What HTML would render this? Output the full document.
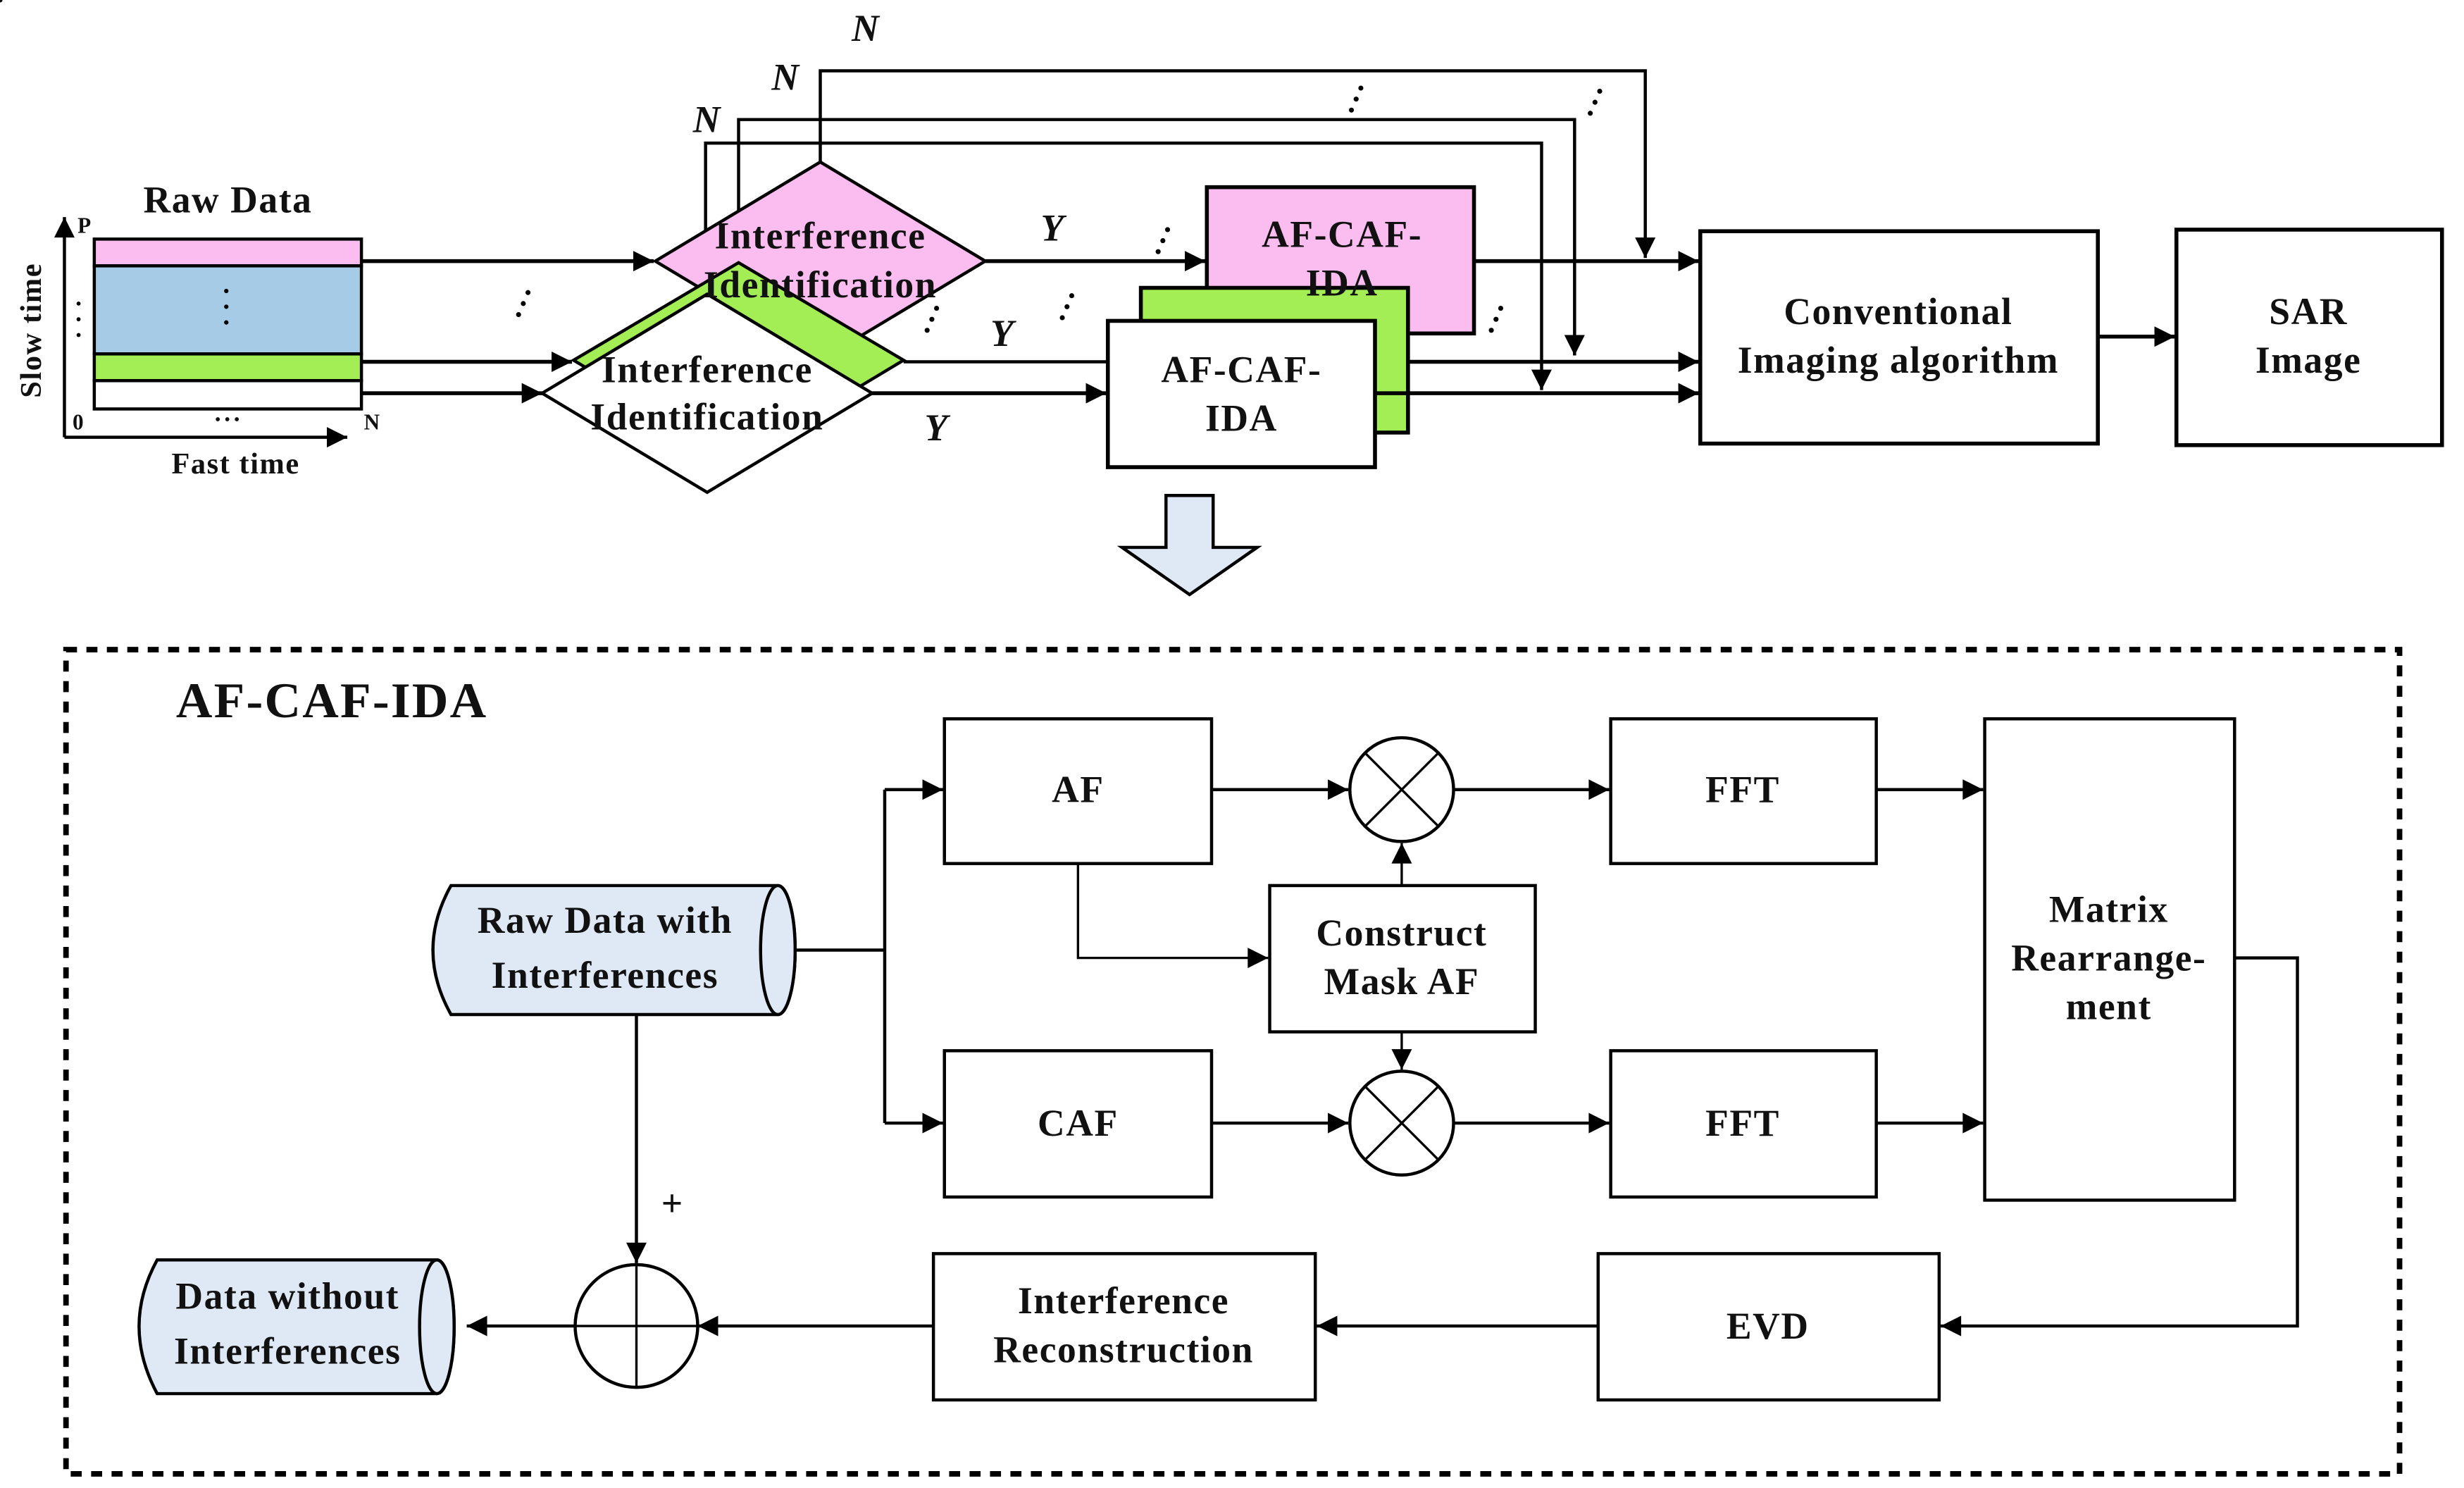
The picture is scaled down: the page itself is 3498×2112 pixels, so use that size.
<!DOCTYPE html>
<html><head><meta charset="utf-8"><style>
html,body{margin:0;padding:0;background:#fff;}
svg{display:block;}
text{font-family:"Liberation Serif",serif;font-weight:bold;fill:#111;}
</style></head><body>
<svg width="3498" height="2112" viewBox="0 0 1568 946" preserveAspectRatio="none" xmlns="http://www.w3.org/2000/svg">
<defs>
<marker id="b" viewBox="0 0 10 10" refX="10" refY="5" markerWidth="16" markerHeight="13" markerUnits="userSpaceOnUse" orient="auto"><path d="M0,0 L10,5 L0,10 z" fill="#000"/></marker>
</defs>
<g stroke="#000" fill="none">
<rect x="60" y="152" width="170" height="17" fill="#fbbdf0" stroke-width="2"/>
<rect x="60" y="169" width="170" height="56" fill="#a6cbe6" stroke-width="2"/>
<rect x="60" y="225" width="170" height="17" fill="#a4ee55" stroke-width="2"/>
<rect x="60" y="242" width="170" height="18" fill="#fff" stroke-width="2"/>
<line x1="41" y1="278" x2="41" y2="138" stroke-width="2" marker-end="url(#b)"/>
<line x1="41" y1="278" x2="221" y2="278" stroke-width="2" marker-end="url(#b)"/>
<line x1="230" y1="166" x2="416" y2="166" stroke-width="2.5" marker-end="url(#b)"/>
<line x1="230" y1="230" x2="364" y2="230" stroke-width="2.5" marker-end="url(#b)"/>
<line x1="230" y1="250" x2="345" y2="250" stroke-width="2.5" marker-end="url(#b)"/>
<polyline points="522,103 522,45 1047,45 1047,164" stroke-width="2" marker-end="url(#b)"/>
<polyline points="470,167 470,76 1002,76 1002,226" stroke-width="2" marker-end="url(#b)"/>
<polyline points="449,187 449,91 981,91 981,248" stroke-width="2" marker-end="url(#b)"/>
<polygon points="522,103 627,166 522,229 417,166" fill="#fbbdf0" stroke-width="2"/>
<polygon points="470,167 575,229 470,292 365,229" fill="#a4ee55" stroke-width="2"/>
<polygon points="450,187 555,250 450,313 345,250" fill="#fff" stroke-width="2"/>
<line x1="627" y1="166" x2="767" y2="166" stroke-width="2.5" marker-end="url(#b)"/>
<line x1="575" y1="230" x2="705" y2="230" stroke-width="2"/>
<line x1="555" y1="250" x2="704" y2="250" stroke-width="2.5" marker-end="url(#b)"/>
<rect x="768" y="119" width="170" height="93" fill="#fbbdf0" stroke-width="2.5"/>
<rect x="726" y="183" width="170" height="92" fill="#a4ee55" stroke-width="2.5"/>
<rect x="705" y="204" width="170" height="93" fill="#fff" stroke-width="2.5"/>
<line x1="938" y1="166" x2="1081" y2="166" stroke-width="2.5" marker-end="url(#b)"/>
<line x1="896" y1="230" x2="1081" y2="230" stroke-width="2.5" marker-end="url(#b)"/>
<line x1="875" y1="250" x2="1081" y2="250" stroke-width="2.5" marker-end="url(#b)"/>
<rect x="1082" y="147" width="253" height="135" stroke-width="2.5"/>
<rect x="1385" y="146" width="169" height="137" stroke-width="2.5"/>
<line x1="1335" y1="214" x2="1384" y2="214" stroke-width="2.5" marker-end="url(#b)"/>
<polygon points="742,315 772,315 772,348 800,348 757,378 714,348 742,348" fill="#dfe9f5" stroke-width="2"/>
<rect x="42" y="413" width="1485" height="524" stroke-width="3.5" stroke-dasharray="7,6"/>
<rect x="601" y="457" width="170" height="92" stroke-width="2"/>
<rect x="601" y="668" width="170" height="93" stroke-width="2"/>
<rect x="1025" y="457" width="169" height="92" stroke-width="2"/>
<rect x="1025" y="668" width="169" height="93" stroke-width="2"/>
<rect x="1263" y="457" width="159" height="306" stroke-width="2"/>
<rect x="808" y="563" width="169" height="93" stroke-width="2"/>
<rect x="1017" y="797" width="217" height="93" stroke-width="2"/>
<rect x="594" y="797" width="243" height="93" stroke-width="2"/>
<circle cx="892" cy="502" r="33" stroke-width="2"/>
<line x1="869" y1="479" x2="915" y2="525" stroke-width="1.5"/><line x1="915" y1="479" x2="869" y2="525" stroke-width="1.5"/>
<circle cx="892" cy="714" r="33" stroke-width="2"/>
<line x1="869" y1="691" x2="915" y2="737" stroke-width="1.5"/><line x1="915" y1="691" x2="869" y2="737" stroke-width="1.5"/>
<circle cx="405" cy="843" r="39" stroke-width="2"/>
<line x1="405" y1="804" x2="405" y2="882" stroke-width="1.5"/><line x1="366" y1="843" x2="444" y2="843" stroke-width="1.5"/>
<path d="M287,563 L495,563 A11,41 0 0 1 495,645 L287,645 Q264,604 287,563 z" fill="#dfe9f5" stroke-width="2"/>
<ellipse cx="495" cy="604" rx="11" ry="41" fill="#dfe9f5" stroke-width="2"/>
<path d="M100,801 L278,801 A11,42.5 0 0 1 278,886 L100,886 Q77,843 100,801 z" fill="#dfe9f5" stroke-width="2"/>
<ellipse cx="278" cy="843.5" rx="11" ry="42.5" fill="#dfe9f5" stroke-width="2"/>
<polyline points="506,604 563,604" stroke-width="2"/>
<polyline points="563,502 563,714" stroke-width="2"/>
<line x1="563" y1="502" x2="600" y2="502" stroke-width="2" marker-end="url(#b)"/>
<line x1="563" y1="714" x2="600" y2="714" stroke-width="2" marker-end="url(#b)"/>
<line x1="771" y1="502" x2="858" y2="502" stroke-width="2" marker-end="url(#b)"/>
<line x1="925" y1="502" x2="1024" y2="502" stroke-width="2" marker-end="url(#b)"/>
<line x1="1194" y1="502" x2="1262" y2="502" stroke-width="2" marker-end="url(#b)"/>
<line x1="771" y1="714" x2="858" y2="714" stroke-width="2" marker-end="url(#b)"/>
<line x1="925" y1="714" x2="1024" y2="714" stroke-width="2" marker-end="url(#b)"/>
<line x1="1194" y1="714" x2="1262" y2="714" stroke-width="2" marker-end="url(#b)"/>
<polyline points="686,549 686,609 807,609" stroke-width="1.5" marker-end="url(#b)"/>
<line x1="892" y1="563" x2="892" y2="536" stroke-width="1.5" marker-end="url(#b)"/>
<line x1="892" y1="656" x2="892" y2="680" stroke-width="1.5" marker-end="url(#b)"/>
<polyline points="1422,609 1462,609 1462,843 1235,843" stroke-width="2" marker-end="url(#b)"/>
<line x1="1017" y1="843" x2="838" y2="843" stroke-width="2" marker-end="url(#b)"/>
<line x1="594" y1="843" x2="444" y2="843" stroke-width="2" marker-end="url(#b)"/>
<line x1="366" y1="843" x2="297" y2="843" stroke-width="2" marker-end="url(#b)"/>
<line x1="405" y1="645" x2="405" y2="803" stroke-width="2" marker-end="url(#b)"/>
</g>
<g fill="#000">
<circle cx="144" cy="185" r="1.4"/><circle cx="144" cy="195" r="1.4"/><circle cx="144" cy="205" r="1.4"/>
<circle cx="50" cy="193" r="1.3"/><circle cx="50" cy="203" r="1.3"/><circle cx="50" cy="213" r="1.3"/>
<g id="d"><circle cx="0" cy="0" r="1.6"/><circle cx="3" cy="-7" r="1.6"/><circle cx="6" cy="-14" r="1.6"/></g>
<use href="#d" x="330" y="200"/><use href="#d" x="590" y="210"/><use href="#d" x="676" y="202"/>
<use href="#d" x="737" y="160"/><use href="#d" x="860" y="70"/><use href="#d" x="1012" y="72"/><use href="#d" x="949" y="210"/>
</g>
<g font-size="24" letter-spacing="0.7" text-anchor="middle">
<text x="145" y="135">Raw Data</text>
<text x="150" y="301" font-size="19">Fast time</text>
<text x="54" y="148" font-size="14" font-weight="normal">P</text>
<text x="50" y="273" font-size="14" font-weight="normal">0</text>
<text x="145" y="272" font-size="16">···</text>
<text x="237" y="273" font-size="14" font-weight="normal">N</text>
<text x="0" y="0" font-size="19" transform="translate(26,210) rotate(-90)">Slow time</text>
<text x="522" y="158" font-weight="normal">Interference</text>
<text x="522" y="189" font-weight="normal">Identification</text>
<text x="450" y="243" font-weight="normal">Interference</text>
<text x="450" y="273" font-weight="normal">Identification</text>
<text x="854" y="157">AF-CAF-</text>
<text x="854" y="188">IDA</text>
<text x="790" y="243">AF-CAF-</text>
<text x="790" y="274">IDA</text>
<text x="1208" y="206">Conventional</text>
<text x="1208" y="237">Imaging algorithm</text>
<text x="1469" y="206">SAR</text>
<text x="1469" y="237">Image</text>
<text x="112" y="456" font-size="32" letter-spacing="1" text-anchor="start">AF-CAF-IDA</text>
<text x="686" y="510">AF</text>
<text x="686" y="722">CAF</text>
<text x="1109" y="510">FFT</text>
<text x="1109" y="722">FFT</text>
<text x="892" y="601">Construct</text>
<text x="892" y="632">Mask AF</text>
<text x="1342" y="586">Matrix</text>
<text x="1342" y="617">Rearrange-</text>
<text x="1342" y="648">ment</text>
<text x="1125" y="851">EVD</text>
<text x="715" y="835">Interference</text>
<text x="715" y="866">Reconstruction</text>
<text x="385" y="593">Raw Data with</text>
<text x="385" y="628">Interferences</text>
<text x="183" y="832">Data without</text>
<text x="183" y="867">Interferences</text>
<text x="428" y="773" font-weight="normal">+</text>
<g font-style="italic" font-size="24">
<text x="551" y="26">N</text><text x="500" y="57">N</text><text x="450" y="84">N</text>
<text x="670" y="153">Y</text><text x="638" y="220">Y</text><text x="596" y="280">Y</text>
</g>
</g>
</svg>
</body></html>
